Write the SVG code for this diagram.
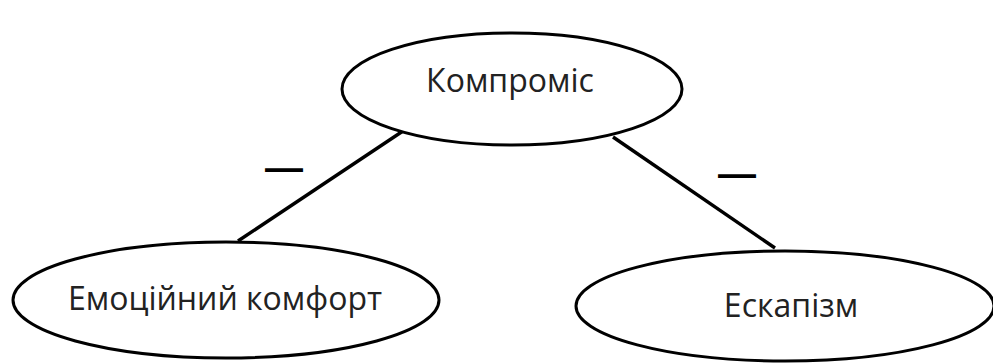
<svg xmlns="http://www.w3.org/2000/svg" width="993" height="363" viewBox="0 0 993 363">
  <style>
    .node ellipse { fill: #ffffff; stroke: #000000; stroke-width: 3; }
    .node text { font-family: "Open Sans", "Noto Sans", sans-serif; font-size: 32px; fill: #222222; text-anchor: middle; }
    .edge line { stroke: #000000; stroke-width: 3.4; }
    .edge text { font-family: "Liberation Sans", Arial, sans-serif; font-weight: bold; font-size: 38px; fill: #000000; }
  </style>
  <rect width="993" height="363" fill="#ffffff"/>

  <!-- connectors -->
  <g id="edges" class="edge">
    <line x1="403" y1="131" x2="238" y2="241"/>
    <line x1="613" y1="137" x2="775" y2="248"/>
    <text x="265" y="181">—</text>
    <text x="718" y="187">—</text>
  </g>

  <!-- nodes -->
  <g id="node-kompromis" class="node">
    <ellipse cx="512" cy="89" rx="170" ry="56"/>
    <text x="510" y="92">Компроміс</text>
  </g>
  <g id="node-komfort" class="node">
    <ellipse cx="226" cy="300" rx="213" ry="58"/>
    <text x="225" y="310">Емоційний комфорт</text>
  </g>
  <g id="node-eskapizm" class="node">
    <ellipse cx="785" cy="306" rx="209" ry="55"/>
    <text x="791" y="317">Ескапізм</text>
  </g>
</svg>
